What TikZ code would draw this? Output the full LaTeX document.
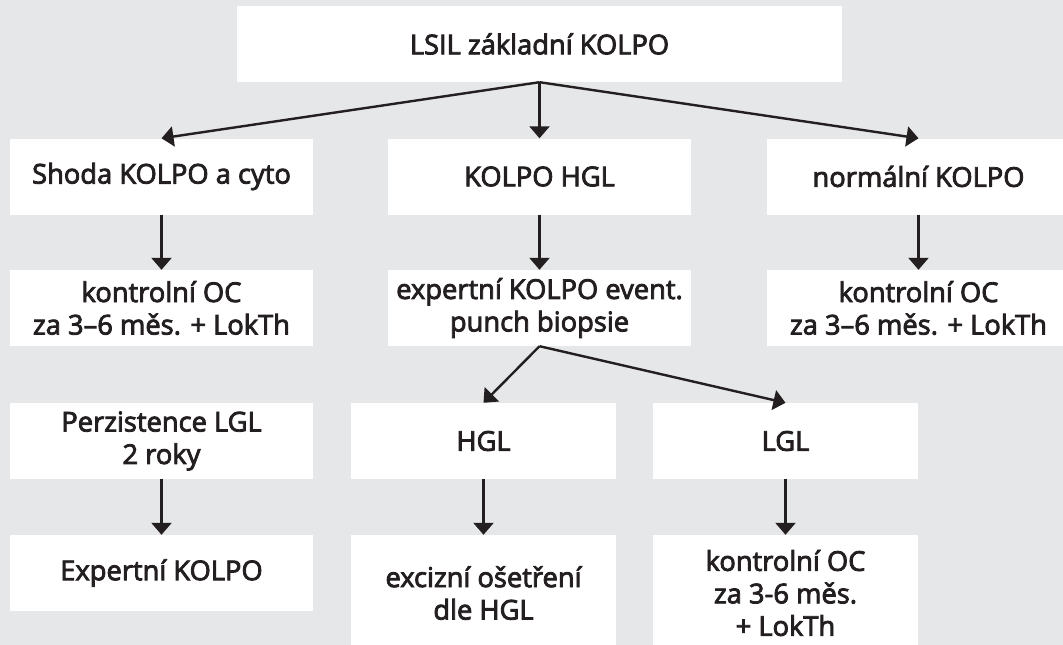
\documentclass[tikz,border=0pt]{standalone}
\usepackage{fontspec}
\setmainfont{Open Sans}
\newfontfamily\semibold{Open Sans}[FakeBold=3]
\usetikzlibrary{arrows.meta}
\definecolor{bg}{HTML}{E6E7E8}
\definecolor{ink}{HTML}{231F20}
\begin{document}
\begin{tikzpicture}[x=1pt,y=-1pt,
  box/.style={fill=white, inner sep=0pt, align=center, text=ink,
    font=\fontsize{27.3}{32.5}\selectfont\semibold},
  wide/.style={box, minimum width=303pt, minimum height=76pt},
  narrow/.style={box, minimum width=265pt, minimum height=76pt},
  link/.style={draw=ink, line width=2.4pt, -{Triangle[width=20pt,length=12pt]}}]
\useasboundingbox (0,0) rectangle (1063,645);
\clip (0,0) rectangle (1063,645);
\fill[bg] (0,0) rectangle (1063,645);

% top
\node[box, minimum width=605pt, minimum height=76pt] (top) at (539.5,44) {LSIL základní KOLPO};

% first level
\node[wide] (shoda) at (161.5,176.5) {Shoda KOLPO a cyto};
\node[wide] (hgl1)  at (539.5,176.5) {KOLPO HGL};
\node[wide] (norm)  at (918.5,176.5) {normální KOLPO};

% second level
\node[wide] (kontL) at (161.5,308) {kontrolní OC\\za 3–6 měs. + LokTh};
\node[wide] (expert) at (539.5,308) {expertní KOLPO event.\\punch biopsie};
\node[wide] (kontR) at (918.5,308) {kontrolní OC\\za 3–6 měs. + LokTh};

% third level
\node[wide]   (pers) at (161.5,441) {Perzistence LGL\\2 roky};
\node[narrow] (hgl2) at (483.5,441) {HGL};
\node[narrow] (lgl)  at (785.5,441) {LGL};

% fourth level
\node[wide] (expk) at (161.5,573) {Expertní KOLPO};
\node[narrow, minimum height=116pt] (exc) at (483.5,593) {excizní ošetření\\dle HGL};
\node[narrow, minimum height=116pt] (kontB) at (785.5,593) {kontrolní OC\\za 3-6 měs.\\+ LokTh};

% connectors
\draw[link] (top.south) -- (shoda.north);
\draw[link] (top.south) -- (hgl1.north);
\draw[link] (top.south) -- (norm.north);
\draw[link] (shoda) -- (kontL);
\draw[link] (hgl1) -- (expert);
\draw[link] (norm) -- (kontR);
\draw[link] (expert.south) -- (hgl2.north);
\draw[link] (expert.south) -- (lgl.north);
\draw[link] (pers) -- (expk);
\draw[link] (hgl2.south) -- (exc.north);
\draw[link] (lgl.south) -- (kontB.north);
\end{tikzpicture}
\end{document}
